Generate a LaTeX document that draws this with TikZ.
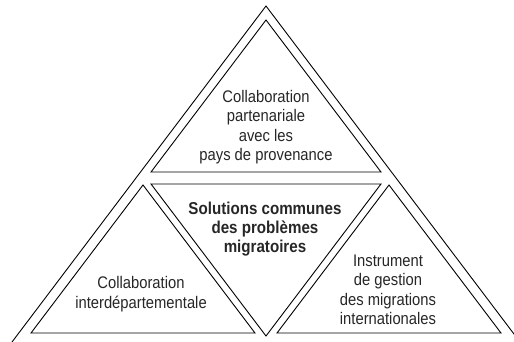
\documentclass[tikz,border=0pt]{standalone}
\usepackage{fontspec}
\setmainfont{Liberation Sans}[FakeStretch=0.88]
\begin{document}
\begin{tikzpicture}[x=1pt,y=-1pt,
  tri/.style={draw=black, line width=0.9pt, line join=miter},
  lbl/.style={align=center, font=\fontsize{16.8}{19.5}\selectfont, inner sep=0pt, text=black!85},
  lblb/.style={align=center, font=\fontsize{17.2}{19}\selectfont\bfseries, inner sep=0pt, text=black!85}]
\useasboundingbox (0,0) rectangle (514,342);
\begin{scope}
  \clip (0,0) rectangle (514,342);
  \coordinate (oL) at (12,342);
  \coordinate (oA) at (266,6);
  \coordinate (oR) at (520,342);
  \draw[tri] (oL) -- (oA) -- (oR);
\end{scope}
% top triangle
\coordinate (tA) at (266,20);
\coordinate (tL) at (151,172);
\coordinate (tR) at (381,172);
\draw[tri] (tA) -- (tL) -- (tR) -- cycle;
% middle inverted triangle
\coordinate (mL) at (151,184);
\coordinate (mR) at (381,184);
\coordinate (mB) at (266,336);
\draw[tri] (mL) -- (mR) -- (mB) -- cycle;
% bottom-left triangle
\coordinate (lA) at (143,185);
\coordinate (lL) at (31,333);
\coordinate (lR) at (255,333);
\draw[tri] (lA) -- (lL) -- (lR) -- cycle;
% bottom-right triangle
\coordinate (rA) at (389,185);
\coordinate (rL) at (277,333);
\coordinate (rR) at (501,333);
\draw[tri] (rA) -- (rL) -- (rR) -- cycle;
% labels
\node[lbl] (top) at (266,127) {Collaboration\\partenariale\\avec les\\pays de provenance};
\node[lblb] (mid) at (265,229) {Solutions communes\\des problèmes\\migratoires};
\node[lbl] (left) at (141,294) {Collaboration\\interdépartementale};
\node[lbl] (right) at (388,290) {Instrument\\de gestion\\des migrations\\internationales};
\end{tikzpicture}
\end{document}
